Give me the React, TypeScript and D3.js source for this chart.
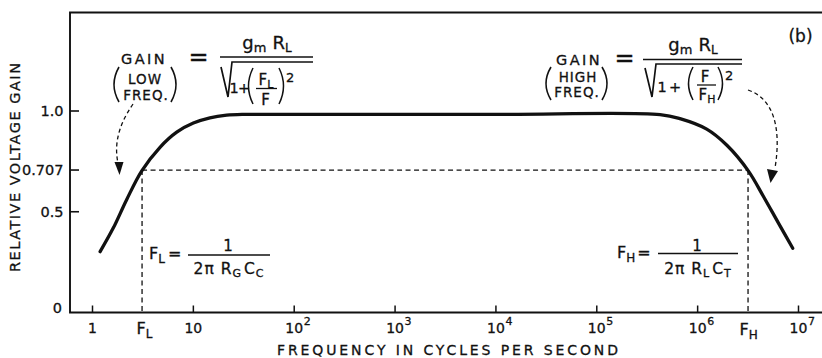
import React from "react";
import * as d3 from "d3";

// ---- data ----
const curveFreq = [1.19, 1.61, 2.18, 3.08, 4.67, 6.84, 10, 14.6, 21.4, 31, 100, 1e4, 4.24e5, 6.68e5, 1.23e6, 1.95e6, 3.18e6, 4.48e6, 6.31e6, 8.77e6];
const curveGain = [0.302, 0.42, 0.56, 0.703, 0.82, 0.895, 0.94, 0.966, 0.979, 0.983, 0.983, 0.983, 0.982, 0.962, 0.91, 0.83, 0.703, 0.577, 0.445, 0.319];
const decadeExps = [0, 1, 2, 3, 4, 5, 6, 7];
const yTicks = [0, 0.5, 0.707, 1.0];
const yTickLabels = ["0", "0.5", "0.707", "1.0"];
const FL = 3.1;
const FH = 3.16e6;
const halfPower = 0.707;

const FONT = "'DejaVu Sans', 'Liberation Sans', sans-serif";
const INK = "#111";

export default function App() {
  const x = d3.scaleLog().domain([1, 1e7]).range([92.5, 798.5]);
  const y = d3.scaleLinear().domain([0, 1]).range([312.5, 111]);
  const left = 70, right = 822, top = 12.5, bottom = y(0);

  const pts = curveFreq.map((f, i) => [x(f), y(curveGain[i])] as [number, number]);
  const line = d3.line().curve(d3.curveCatmullRom.alpha(0.5))(pts) || "";

  const xFL = x(FL), xFH = x(FH), yHP = y(halfPower);
  const dash = "5,3.5";

  return (
    <svg width={822} height={358} style={{ position: "absolute", left: 0, top: 0, background: "#fff" }} fontFamily={FONT} fill={INK}>
      <style>{`text { stroke: ${INK}; stroke-width: 0.3px; }`}</style>
      {/* frame */}
      <path d={`M${right},${top}H${left}V${bottom}H${right}`} fill="none" stroke={INK} strokeWidth={1.9} />
      {/* y ticks */}
      {yTicks.map((t, i) => (
        <g key={"yt" + i}>
          {t > 0 && <line x1={left} x2={left + 9} y1={y(t)} y2={y(t)} stroke={INK} strokeWidth={1.6} />}
          <text x={t === 0 ? 62 : 63.5} y={t === 0 ? y(t) : y(t) + 5} textAnchor="end" fontSize={14.5}>{yTickLabels[i]}</text>
        </g>
      ))}
      {/* x ticks */}
      {decadeExps.map((k) => (
        <g key={"xt" + k}>
          <line x1={x(Math.pow(10, k))} x2={x(Math.pow(10, k))} y1={bottom} y2={bottom - 7} stroke={INK} strokeWidth={1.5} />
          <text x={x(Math.pow(10, k))} y={333} textAnchor="middle" fontSize={14}>{k === 0 ? "1" : "10"}</text>
          {k > 1 && <text x={x(Math.pow(10, k)) + 9.5} y={325} fontSize={11}>{String(k)}</text>}
        </g>
      ))}
      <text x={xFL - 5.5} y={334} fontSize={16}>F<tspan fontSize={12} dy={4}>L</tspan></text>
      <text x={xFH - 8.5} y={335} fontSize={16}>F<tspan fontSize={12} dy={4}>H</tspan></text>

      {/* dashed guides */}
      <path d={`M${xFL},${yHP}H${xFH}`} stroke={INK} strokeWidth={1.3} strokeDasharray={dash} fill="none" />
      <path d={`M${xFL},${yHP}V${bottom}`} stroke={INK} strokeWidth={1.3} strokeDasharray={dash} fill="none" />
      <path d={`M${xFH},${yHP}V${bottom}`} stroke={INK} strokeWidth={1.3} strokeDasharray={dash} fill="none" />

      {/* curve */}
      <path d={line} fill="none" stroke={INK} strokeWidth={3.3} strokeLinecap="round" />

      {/* axis titles */}
      <text transform="translate(19.5,167.5) rotate(-90)" textAnchor="middle" fontSize={14.5} textLength={209} lengthAdjust="spacing">RELATIVE VOLTAGE GAIN</text>
      <text x={447.5} y={355} textAnchor="middle" fontSize={14} textLength={341} lengthAdjust="spacing">FREQUENCY  IN  CYCLES  PER  SECOND</text>
      <text x={800.5} y={42} textAnchor="middle" fontSize={17}>(b)</text>

      {/* ---- left formula ---- */}
      <text x={144} y={63.5} textAnchor="middle" fontSize={14.5} letterSpacing={2.4}>GAIN</text>
      <text x={145} y={84} textAnchor="middle" fontSize={13.5} letterSpacing={1}>LOW</text>
      <text x={146} y={99.5} textAnchor="middle" fontSize={13.5} letterSpacing={1}>FREQ.</text>
      <path d="M119,67 Q109,84.5 119,102" fill="none" stroke={INK} strokeWidth={1.6} />
      <path d="M171,67 Q181,84.5 171,102" fill="none" stroke={INK} strokeWidth={1.6} />
      <text x={198.5} y={65} textAnchor="middle" fontSize={24}>=</text>
      <text x={267} y={48.5} textAnchor="middle" fontSize={18}>g<tspan fontSize={13} dy={3}>m</tspan><tspan dy={-3} dx={6}>R</tspan><tspan fontSize={12} dy={3.5}>L</tspan></text>
      <line x1={220} x2={313} y1={57} y2={57} stroke={INK} strokeWidth={1.7} />
      <path d="M221,67 L228,97 L232,62 L313,62" fill="none" stroke={INK} strokeWidth={1.7} />
      <text x={229.5} y={93} fontSize={14.5}>1</text>
      <text x={238} y={93} fontSize={14.5}>+</text>
      <path d="M253,68 Q244,86 253,104" fill="none" stroke={INK} strokeWidth={1.5} />
      <path d="M279,68 Q288,86 279,104" fill="none" stroke={INK} strokeWidth={1.5} />
      <text x={266} y={85} textAnchor="middle" fontSize={15}>F<tspan fontSize={11} dy={3}>L</tspan></text>
      <line x1={256} x2={277} y1={88.5} y2={88.5} stroke={INK} strokeWidth={1.3} />
      <text x={265.5} y={104.5} textAnchor="middle" fontSize={15}>F</text>
      <text x={286} y={82} fontSize={13}>2</text>

      {/* left dashed arrow */}
      <path d="M133,104 C122,120 113,140 118,163" fill="none" stroke={INK} strokeWidth={1.3} strokeDasharray="4,3" />
      <path d="M119.5,175 L114.5,162 L123.5,162 Z" fill={INK} />

      {/* ---- right formula ---- */}
      <text x={579} y={65} textAnchor="middle" fontSize={14.5} letterSpacing={2.4}>GAIN</text>
      <text x={578} y={82} textAnchor="middle" fontSize={13.5} letterSpacing={1}>HIGH</text>
      <text x={577} y={97} textAnchor="middle" fontSize={13.5} letterSpacing={1}>FREQ.</text>
      <path d="M551,67 Q541,83.5 551,100" fill="none" stroke={INK} strokeWidth={1.6} />
      <path d="M602,67 Q612,83.5 602,100" fill="none" stroke={INK} strokeWidth={1.6} />
      <text x={624.5} y={66} textAnchor="middle" fontSize={24}>=</text>
      <text x={693} y={50.5} textAnchor="middle" fontSize={18}>g<tspan fontSize={13} dy={3}>m</tspan><tspan dy={-3} dx={6}>R</tspan><tspan fontSize={12} dy={3.5}>L</tspan></text>
      <line x1={643} x2={742} y1={59.5} y2={59.5} stroke={INK} strokeWidth={1.7} />
      <path d="M645,68 L652,97 L656,64 L742,64" fill="none" stroke={INK} strokeWidth={1.7} />
      <text x={657.5} y={92} fontSize={14.5}>1</text>
      <text x={669} y={92} fontSize={14.5}>+</text>
      <path d="M693,67 Q684,83.5 693,100" fill="none" stroke={INK} strokeWidth={1.5} />
      <path d="M718,67 Q727,83.5 718,100" fill="none" stroke={INK} strokeWidth={1.5} />
      <text x={705} y={82} textAnchor="middle" fontSize={15}>F</text>
      <line x1={697} x2={716} y1={85} y2={85} stroke={INK} strokeWidth={1.3} />
      <text x={707} y={99.5} textAnchor="middle" fontSize={15}>F<tspan fontSize={11} dy={3}>H</tspan></text>
      <text x={725} y={80} fontSize={13}>2</text>

      {/* right dashed arrow */}
      <path d="M748,90 C772,98 782,125 775,168" fill="none" stroke={INK} strokeWidth={1.3} strokeDasharray="4,3" />
      <path d="M770.5,183 L767,169 L778,171 Z" fill={INK} />

      {/* lower formulas */}
      <text x={149} y={258.5} fontSize={16}>F<tspan fontSize={12} dy={4}>L</tspan><tspan dy={-4} dx={3}>=</tspan></text>
      <line x1={188} x2={270} y1={255} y2={255} stroke={INK} strokeWidth={1.5} />
      <text x={228} y={251} textAnchor="middle" fontSize={15}>1</text>
      <text x={229} y={274} textAnchor="middle" fontSize={15.5} letterSpacing={1}>2π R<tspan fontSize={11} dy={3}>G</tspan><tspan dy={-3} dx={2}>C</tspan><tspan fontSize={11} dy={3}>C</tspan></text>

      <text x={617} y={257.5} fontSize={16}>F<tspan fontSize={12} dy={4}>H</tspan><tspan dy={-4} dx={2}>=</tspan></text>
      <line x1={658} x2={738} y1={253.5} y2={253.5} stroke={INK} strokeWidth={1.5} />
      <text x={697} y={251} textAnchor="middle" fontSize={15}>1</text>
      <text x={698} y={274} textAnchor="middle" fontSize={15.5} letterSpacing={1}>2π R<tspan fontSize={11} dy={3}>L</tspan><tspan dy={-3} dx={2}>C</tspan><tspan fontSize={11} dy={3}>T</tspan></text>
    </svg>
  );
}
